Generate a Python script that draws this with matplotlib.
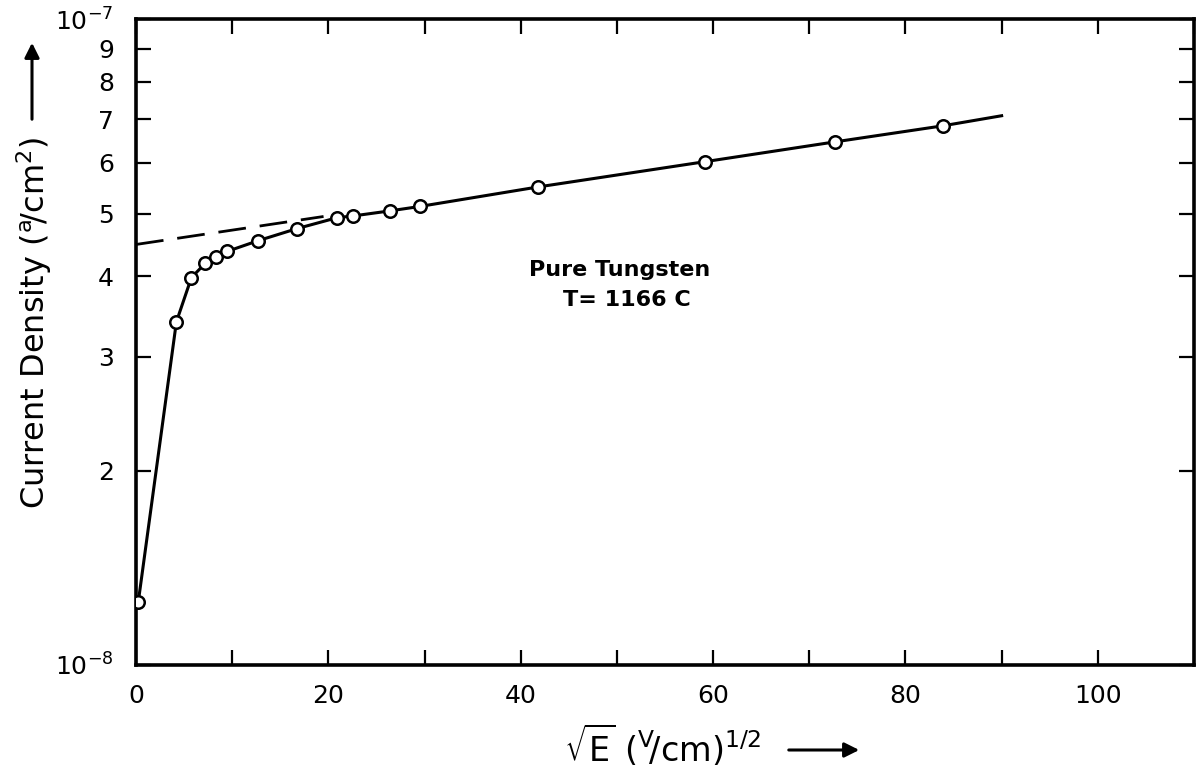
import numpy as np
import matplotlib
matplotlib.use("Agg")
import matplotlib.pyplot as plt
from matplotlib.ticker import FixedLocator, NullLocator

# data (current density in units of 1e-8 A/cm^2)
sqrt_e = [0.23, 4.2, 5.76, 7.2, 8.35, 9.46, 12.68, 16.72, 20.93, 22.59,
          26.4, 29.5, 41.8, 59.2, 72.7, 83.9]
density = [1.25, 3.40, 3.98, 4.19, 4.28, 4.37, 4.54, 4.74, 4.93, 4.96,
           5.05, 5.13, 5.50, 6.02, 6.46, 6.84]
# straight line continues past the last point
line_end_x = 90.0
line_end_j = 7.09
# dashed extrapolation back to zero field
dash_x = [0.0, 19.5]
dash_j = [4.48, 4.95]

scale = 1e-8
x_major = [0, 20, 40, 60, 80, 100]
x_all = [0, 10, 20, 30, 40, 50, 60, 70, 80, 90, 100, 110]
y_ticks = [1, 2, 3, 4, 5, 6, 7, 8, 9, 10]
y_labels = [r"$10^{-8}$", "2", "3", "4", "5", "6", "7", "8", "9", r"$10^{-7}$"]

plt.rcParams["font.family"] = ["DejaVu Sans"]
plt.rcParams["mathtext.fontset"] = "dejavusans"

fig = plt.figure(figsize=(11.96, 7.81), dpi=100)
ax = fig.add_axes([136 / 1196, 116 / 781, 1058 / 1196, 645.7 / 781])

sol_x = list(sqrt_e) + [line_end_x]
sol_j = np.array(list(density) + [line_end_j]) * scale
ax.plot(sol_x, sol_j, color="black", lw=2.2, zorder=2)
ax.plot(dash_x, np.array(dash_j) * scale, color="black", lw=2.0,
        dashes=(10, 5), zorder=2)
ax.plot(sqrt_e, np.array(density) * scale, "o", ms=9, mfc="white",
        mec="black", mew=1.8, zorder=3)

ax.set_yscale("log")
ax.set_xlim(0, 110)
ax.set_ylim(1 * scale, 10 * scale)

ax.xaxis.set_major_locator(FixedLocator(x_all))
ax.set_xticklabels([str(v) if v in x_major else "" for v in x_all])
ax.xaxis.set_minor_locator(NullLocator())
ax.yaxis.set_major_locator(FixedLocator([v * scale for v in y_ticks]))
ax.set_yticklabels(y_labels)
ax.yaxis.set_minor_locator(NullLocator())

ax.tick_params(axis="both", direction="in", length=11, width=1.6,
               top=True, right=True, labelsize=18, colors="black")
ax.tick_params(axis="x", pad=14)
ax.tick_params(axis="y", pad=16)
for s in ax.spines.values():
    s.set_linewidth(2.6)

ax.text(50.3, 4.09 * scale, "Pure Tungsten", fontsize=16, fontweight="bold",
        ha="center", va="center")
ax.text(51.0, 3.67 * scale, "T= 1166 C", fontsize=16, fontweight="bold",
        ha="center", va="center")

# axis labels with arrows
fig.text(34 / 1196, 1 - 323 / 781, r"Current Density ($^{\rm a}\!/$cm$^{2}$)",
         rotation=90, ha="center", va="center", fontsize=23)
ax.annotate("", xy=(32, 781 - 40), xytext=(32, 781 - 122),
            xycoords="figure pixels", textcoords="figure pixels",
            arrowprops=dict(arrowstyle="-|>", lw=2.2, color="black",
                            mutation_scale=22))
fig.text(662 / 1196, 1 - 745 / 781, r"$\sqrt{\rm E}$ ($^{\rm V}\!/$cm)$^{1/2}$",
         ha="center", va="center", fontsize=24)
ax.annotate("", xy=(862, 781 - 750), xytext=(786, 781 - 750),
            xycoords="figure pixels", textcoords="figure pixels",
            arrowprops=dict(arrowstyle="-|>", lw=2.2, color="black",
                            mutation_scale=22))

fig.savefig("out.png", dpi=100)
